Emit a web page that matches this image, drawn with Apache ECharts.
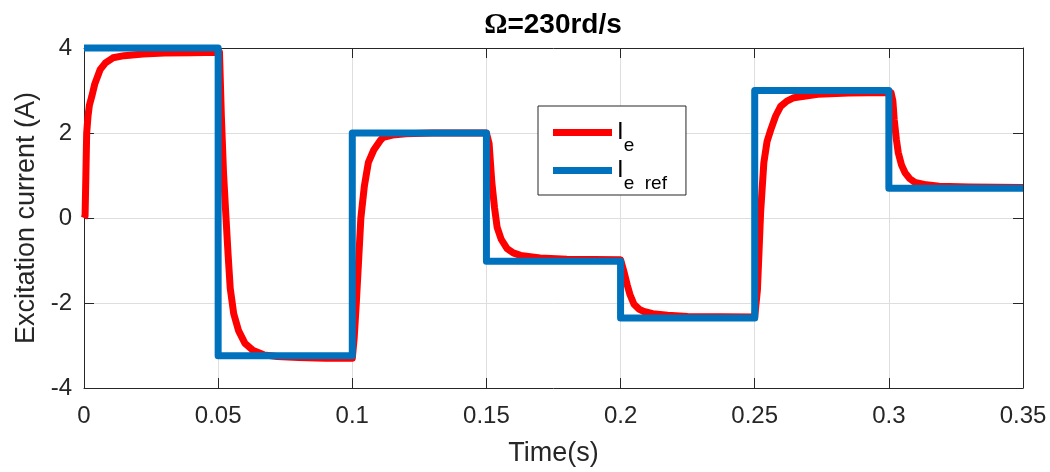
<!DOCTYPE html>
<html>
<head>
<meta charset="utf-8">
<script src="https://cdn.jsdelivr.net/npm/echarts@6/dist/echarts.min.js"></script>
<style>
html,body{margin:0;padding:0;background:#fff;}
#chart{width:1050px;height:472px;}
</style>
</head>
<body>
<div id="chart"></div>
<script>
// Measured excitation current I_e (red)
const redT = [0, 0.0004, 0.0007, 0.001, 0.0015, 0.002, 0.0029, 0.004, 0.006, 0.008, 0.0108, 0.015, 0.022, 0.03, 0.04, 0.0505,
  0.0512, 0.052, 0.0528, 0.0537, 0.0545, 0.0558, 0.0576, 0.060, 0.0631, 0.067, 0.072, 0.08, 0.09, 0.1,
  0.1004, 0.1007, 0.1015, 0.1024, 0.1032, 0.1045, 0.106, 0.108, 0.1105, 0.1116, 0.115, 0.12, 0.13, 0.15,
  0.1506, 0.151, 0.1515, 0.152, 0.153, 0.154, 0.1555, 0.1577, 0.160, 0.1627, 0.170, 0.18, 0.2,
  0.2005, 0.2012, 0.2025, 0.2035, 0.205, 0.207, 0.2087, 0.212, 0.2175, 0.225, 0.25,
  0.2505, 0.251, 0.2516, 0.2522, 0.2534, 0.2546, 0.256, 0.2578, 0.2597, 0.2620, 0.2646, 0.2735, 0.285, 0.3,
  0.3008, 0.3015, 0.302, 0.3028, 0.3035, 0.3047, 0.306, 0.3077, 0.3097, 0.314, 0.3187, 0.33, 0.35];
const redV = [0, 0.05, 1.0, 2.0, 2.4, 2.65, 2.86, 3.15, 3.49, 3.65, 3.77, 3.82, 3.86, 3.88, 3.89, 3.9,
  2.4, 1.07, 0.15, -0.85, -1.65, -2.25, -2.65, -2.95, -3.12, -3.22, -3.26, -3.28, -3.3, -3.3,
  -3.3, -2.83, -2.0, -0.95, 0.0, 0.75, 1.31, 1.6, 1.83, 1.9, 1.95, 1.98, 2.0, 2.0,
  2.0, 1.75, 1.3, 0.85, 0.25, -0.22, -0.5, -0.72, -0.82, -0.88, -0.94, -0.97, -0.98,
  -1.0, -1.25, -1.58, -1.8, -2.03, -2.15, -2.2, -2.25, -2.29, -2.32, -2.33,
  -2.3, -1.7, -0.8, 0.13, 1.3, 1.8, 2.08, 2.4, 2.63, 2.75, 2.83, 2.91, 2.94, 2.95,
  2.95, 2.75, 2.31, 1.85, 1.54, 1.25, 1.07, 0.93, 0.84, 0.78, 0.75, 0.73, 0.72];
// Reference current I_e ref (blue)
const refT = [0, 0.05, 0.05, 0.1, 0.1, 0.15, 0.15, 0.2, 0.2, 0.25, 0.25, 0.3, 0.3, 0.35];
const refV = [4, 4, -3.24, -3.24, 2, 2, -1.02, -1.02, -2.35, -2.35, 3, 3, 0.7, 0.7];
// Axis ticks
const xTicks = [0, 0.05, 0.1, 0.15, 0.2, 0.25, 0.3, 0.35];
const yTicks = [-4, -2, 0, 2, 4];

const FONT = "Arial, 'Liberation Sans', sans-serif";
const TXT = '#262626';
const chart = echarts.init(document.getElementById('chart'), null, {renderer: 'canvas'});

const boxAxis = (pos, min, max, interval) => ({
  type: 'value', position: pos, min: min, max: max, interval: interval,
  axisLine: {show: true, onZero: false, lineStyle: {color: TXT, width: 1}},
  axisTick: {show: true, inside: true, length: 10, lineStyle: {color: TXT}},
  axisLabel: {show: false}, splitLine: {show: false}
});

chart.setOption({
  animation: false,
  backgroundColor: '#fff',
  title: {
    text: '{o|Ω}=230rd/s',
    left: 548, top: 6, textAlign: 'center',
    textStyle: {
      fontFamily: FONT, fontWeight: 'bold', fontSize: 28, color: '#000',
      rich: {o: {fontFamily: "'Liberation Serif', 'Times New Roman', serif", fontWeight: 'bold', fontSize: 29, color: '#000'}}
    }
  },
  grid: {left: 84, right: 27, top: 48, bottom: 81, containLabel: false},
  legend: {
    orient: 'vertical', left: 538, top: 106,
    padding: [14, 19, 2, 15],
    itemGap: 3, itemWidth: 59, itemHeight: 7,
    backgroundColor: '#fff', borderColor: TXT, borderWidth: 1,
    data: [{name: 'Ie', icon: 'rect'}, {name: 'Ieref', icon: 'rect'}],
    formatter: function (n) { return n === 'Ie' ? '{a|I}{b|e}' : '{a|I}{b|e  ref}'; },
    textStyle: {
      fontFamily: FONT, color: '#000',
      rich: {
        a: {fontFamily: FONT, fontSize: 24, lineHeight: 25, verticalAlign: 'top', color: '#000'},
        b: {fontFamily: FONT, fontSize: 19, lineHeight: 12, padding: [16, 0, 0, 0], verticalAlign: 'top', color: '#000'}
      }
    }
  },
  xAxis: [{
    type: 'value', min: 0, max: 0.35, interval: 0.05, position: 'bottom',
    name: 'Time(s)', nameLocation: 'middle', nameGap: 52,
    nameTextStyle: {fontFamily: FONT, fontSize: 27, color: TXT},
    axisLine: {show: true, onZero: false, lineStyle: {color: TXT, width: 1}},
    axisTick: {show: true, inside: true, length: 10, lineStyle: {color: TXT}},
    axisLabel: {fontFamily: FONT, fontSize: 24, color: TXT, margin: 16,
      formatter: function (v) { const t = xTicks.find(x => Math.abs(x - v) < 1e-9); return t === undefined ? '' : String(t); }},
    splitLine: {show: true, lineStyle: {color: '#dedede', width: 1}}
  }, boxAxis('top', 0, 0.35, 0.05)],
  yAxis: [{
    type: 'value', min: -4, max: 4, interval: 2, position: 'left',
    name: 'Excitation current (A)', nameLocation: 'middle', nameGap: 41, nameRotate: 90,
    nameTextStyle: {fontFamily: FONT, fontSize: 27, color: TXT},
    axisLine: {show: true, onZero: false, lineStyle: {color: TXT, width: 1}},
    axisTick: {show: true, inside: true, length: 10, lineStyle: {color: TXT}},
    axisLabel: {fontFamily: FONT, fontSize: 24, color: TXT, margin: 12,
      formatter: function (v) { const t = yTicks.find(y => Math.abs(y - v) < 1e-9); return t === undefined ? '' : String(t); }},
    splitLine: {show: true, lineStyle: {color: '#dedede', width: 1}}
  }, boxAxis('right', -4, 4, 2)],
  series: [{
    name: 'Ie', type: 'line', xAxisIndex: 0, yAxisIndex: 0,
    data: redT.map((t, i) => [t, redV[i]]),
    showSymbol: false, symbol: 'none', clip: false,
    lineStyle: {color: '#FF0000', width: 7, join: 'round', cap: 'butt'},
    itemStyle: {color: '#FF0000'}, z: 2
  }, {
    name: 'Ieref', type: 'line', xAxisIndex: 0, yAxisIndex: 0,
    data: refT.map((t, i) => [t, refV[i]]),
    showSymbol: false, symbol: 'none', clip: false,
    lineStyle: {color: '#0072BD', width: 7, join: 'round', cap: 'butt'},
    itemStyle: {color: '#0072BD'}, z: 3
  }]
});
</script>
</body>
</html>
